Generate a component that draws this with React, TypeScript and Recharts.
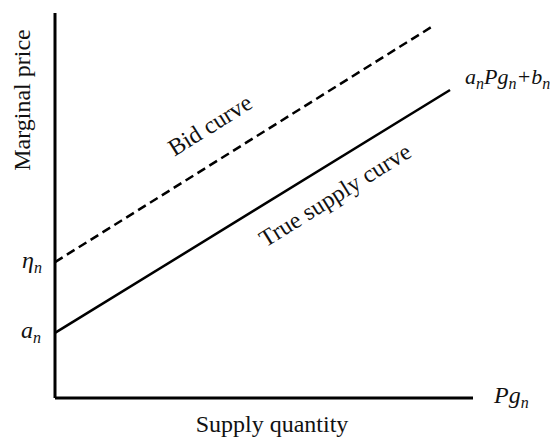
import { LineChart, Line, XAxis, YAxis } from 'recharts';

// supply quantity (x) and marginal price (y), arbitrary 0-100 units
const supplyQty = [0, 94.5];
const supplyPrice = [16.9, 80];
const bidQty = [0, 90.4];
const bidPrice = [35.3, 96.6];

const supplyData = supplyQty.map((x, i) => ({ x, y: supplyPrice[i] }));
const bidData = bidQty.map((x, i) => ({ x, y: bidPrice[i] }));

const textStyle = { fontFamily: "'Liberation Serif', 'Times New Roman', Times, serif" };
const subSize = 16;

export default function App() {
  return (
    <div style={{ position: 'fixed', left: 0, top: 0, width: 550, height: 442, background: '#fff' }}>
      <LineChart width={550} height={442} margin={{ top: 13, right: 77, bottom: 43, left: 54 }}>
        <XAxis
          type="number"
          dataKey="x"
          domain={[0, 100]}
          height={1}
          tick={false}
          tickLine={false}
          axisLine={{ stroke: '#000', strokeWidth: 3 }}
        />
        <YAxis
          type="number"
          dataKey="y"
          domain={[0, 100]}
          width={1}
          tick={false}
          tickLine={false}
          axisLine={{ stroke: '#000', strokeWidth: 3 }}
        />
        <Line
          data={supplyData}
          dataKey="y"
          stroke="#000"
          strokeWidth={2.5}
          dot={false}
          isAnimationActive={false}
        />
        <Line
          data={bidData}
          dataKey="y"
          stroke="#000"
          strokeWidth={2.5}
          strokeDasharray="9 5"
          dot={false}
          isAnimationActive={false}
        />
        <g style={textStyle} fill="#111" fontSize={24}>
          <text x={30} y={100} textAnchor="middle" transform="rotate(-90 30 100)">Marginal price</text>
          <text x={272} y={432} textAnchor="middle">Supply quantity</text>
          <text x={210} y={133} textAnchor="middle" transform="rotate(-32 210 125)">Bid curve</text>
          <text x={335} y={203} textAnchor="middle" transform="rotate(-32 335 195)">True supply curve</text>
          <g fontStyle="italic">
            <text x={22} y={268}>
              <tspan>η</tspan>
              <tspan dy={5} fontSize={subSize}>n</tspan>
            </text>
            <text x={21} y={338}>
              <tspan>a</tspan>
              <tspan dy={5} fontSize={subSize}>n</tspan>
            </text>
            <text x={494} y={403}>
              <tspan>Pg</tspan>
              <tspan dy={5} fontSize={subSize}>n</tspan>
            </text>
            <text x={465} y={84} fontSize={22}>
              <tspan>a</tspan>
              <tspan dy={5} fontSize={subSize}>n</tspan>
              <tspan dy={-5}>Pg</tspan>
              <tspan dy={5} fontSize={subSize}>n</tspan>
              <tspan dy={-5}>+b</tspan>
              <tspan dy={5} fontSize={subSize}>n</tspan>
            </text>
          </g>
        </g>
      </LineChart>
    </div>
  );
}
